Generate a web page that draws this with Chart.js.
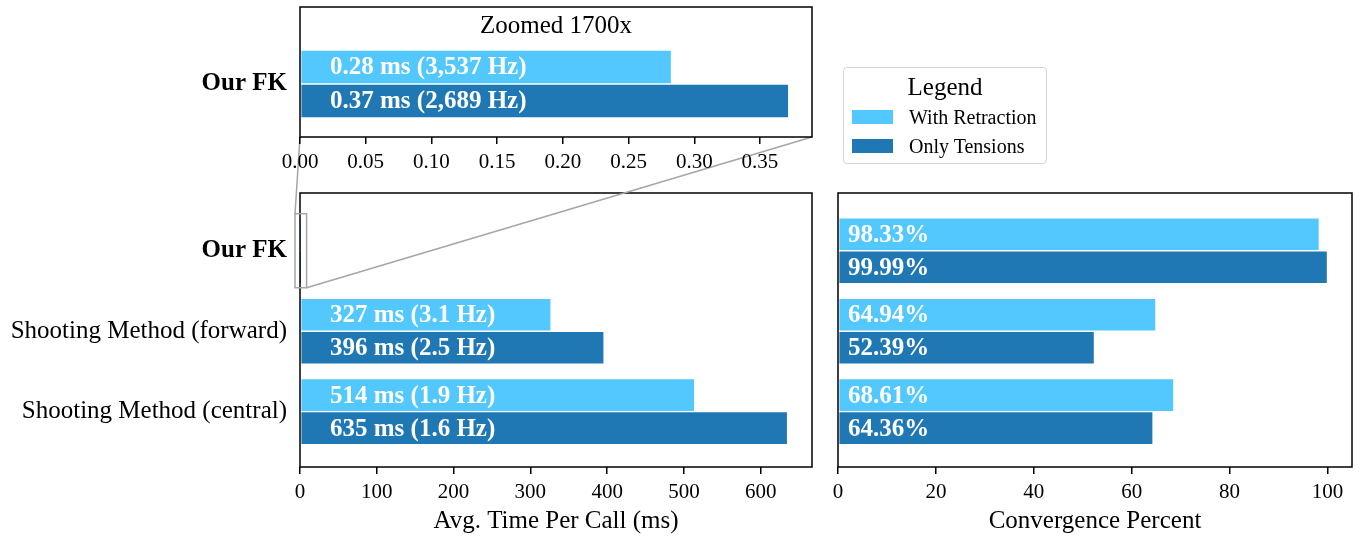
<!DOCTYPE html>
<html>
<head>
<meta charset="utf-8">
<script src="https://cdn.jsdelivr.net/npm/chart.js@4.4.0/dist/chart.umd.min.js"></script>
<style>
  html, body { margin: 0; padding: 0; background: #fff; }
  #wrap { position: relative; width: 1360px; height: 538px; overflow: hidden; }
  #wrap canvas { position: absolute; left: 0; top: 0; }
  #legend {
    position: absolute; left: 843px; top: 67px; width: 204px; height: 97px;
    box-sizing: border-box; border: 1.5px solid #d4d4d4; border-radius: 4px;
    background: #fff; font-family: 'Liberation Serif', 'DejaVu Serif', serif; color: #000;
  }
  #legend .title { position: absolute; left: 0; top: 4px; width: 100%; text-align: center; font-size: 25px; line-height: 30px; }
  #legend .patch { position: absolute; left: 8px; width: 41px; height: 14px; }
  #legend .name { position: absolute; left: 65px; font-size: 20px; line-height: 24px; white-space: nowrap; }
</style>
</head>
<body>
<div id="wrap">
  <canvas id="main" width="1360" height="538"></canvas>
  <canvas id="inset" width="1360" height="538"></canvas>
  <canvas id="conv" width="1360" height="538"></canvas>
  <div id="legend"></div>
</div>
<script>
// data
var categories = ['Our FK', 'Shooting Method (forward)', 'Shooting Method (central)'];
var seriesNames = ['With Retraction', 'Only Tensions'];
var colors = ['#52c8ff', '#1f77b4'];

// avg. time per call, ms
var timeRetraction = [0.2827, 327, 514];
var timeTensions = [0.3719, 396, 635];
var timeTextRetraction = ['0.28 ms (3,537 Hz)', '327 ms (3.1 Hz)', '514 ms (1.9 Hz)'];
var timeTextTensions = ['0.37 ms (2,689 Hz)', '396 ms (2.5 Hz)', '635 ms (1.6 Hz)'];

// convergence percent
var convRetraction = [98.33, 64.94, 68.61];
var convTensions = [99.99, 52.39, 64.36];
var convTextRetraction = ['98.33%', '64.94%', '68.61%'];
var convTextTensions = ['99.99%', '52.39%', '64.36%'];

var insetTicks = [0, 0.05, 0.10, 0.15, 0.20, 0.25, 0.30, 0.35];
var timeTicks = [0, 100, 200, 300, 400, 500, 600];
var convTicks = [0, 20, 40, 60, 80, 100];

// region of the main axes shown in the inset (ms, category units)
var zoomBoxX = [-6.5, 8.6];
var zoomBoxY = [-0.46, 0.46];

Chart.defaults.font.family = "'Liberation Serif', 'DejaVu Serif', serif";
Chart.defaults.color = '#000';

function points(vals) {
  return vals.map(function (v, i) { return { x: v, y: i }; });
}

function bars(name, vals, color, thickness) {
  return {
    label: name,
    data: points(vals),
    backgroundColor: color,
    borderColor: '#fff',
    borderWidth: 1,
    borderSkipped: false,
    barThickness: thickness
  };
}

function xAxis(min, max, ticks, fmt, title, height) {
  return {
    type: 'linear', position: 'bottom', min: min, max: max, offset: false,
    afterBuildTicks: function (ax) { ax.ticks = ticks.map(function (v) { return { value: v }; }); },
    afterFit: function (ax) {
      ax.height = height;
      ax.paddingLeft = 0; ax.paddingRight = 0; ax.paddingTop = 0; ax.paddingBottom = 0;
    },
    ticks: { callback: fmt, font: { size: 21 }, padding: 6, autoSkip: false, maxRotation: 0, color: '#000' },
    grid: { drawOnChartArea: false, drawTicks: true, tickLength: 7, color: '#000', lineWidth: 1.5 },
    border: { display: false },
    title: title
      ? { display: true, text: title, font: { size: 25 }, padding: { top: 0, bottom: 2 }, color: '#000' }
      : { display: false }
  };
}

function yAxis(min, max, ticks, show) {
  return {
    type: 'linear', reverse: true, min: min, max: max, offset: false, display: show,
    afterBuildTicks: function (ax) { ax.ticks = ticks.map(function (v) { return { value: v }; }); },
    afterFit: function (ax) {
      ax.width = show ? 300 : 0;
      ax.paddingLeft = 0; ax.paddingRight = 0; ax.paddingTop = 0; ax.paddingBottom = 0;
    },
    ticks: {
      callback: function (v) { return categories[v]; },
      font: function (ctx) {
        return { size: 25, weight: ctx.tick && ctx.tick.value === 0 ? 'bold' : 'normal' };
      },
      padding: 13, color: '#000'
    },
    grid: { display: false, drawTicks: false },
    border: { display: false }
  };
}

var boxPlugin = {
  id: 'box',
  afterDatasetsDraw: function (chart) {
    var a = chart.chartArea, c = chart.ctx;
    c.save();
    c.strokeStyle = '#000';
    c.lineWidth = 1.5;
    c.strokeRect(a.left, a.top, a.right - a.left, a.bottom - a.top);
    c.restore();
  }
};

function barText(texts, offset) {
  return {
    id: 'barText',
    afterDatasetsDraw: function (chart) {
      var c = chart.ctx;
      c.save();
      c.fillStyle = '#fff';
      c.font = "bold 25px 'Liberation Serif', 'DejaVu Serif', serif";
      c.textBaseline = 'middle';
      c.textAlign = 'left';
      chart.data.datasets.forEach(function (ds, di) {
        chart.getDatasetMeta(di).data.forEach(function (bar, i) {
          var t = texts[di][i];
          if (t) c.fillText(t, chart.chartArea.left + offset, bar.y + 1);
        });
      });
      c.restore();
    }
  };
}

function baseOptions(padding, scales) {
  return {
    responsive: false,
    animation: false,
    devicePixelRatio: 1,
    indexAxis: 'y',
    layout: { padding: padding },
    plugins: { legend: { display: false }, tooltip: { enabled: false } },
    events: [],
    scales: scales
  };
}

// inset: zoom on "Our FK"
var insetChart = new Chart(document.getElementById('inset'), {
  type: 'bar',
  data: {
    datasets: [
      bars(seriesNames[0], timeRetraction.slice(0, 1), colors[0], 34),
      bars(seriesNames[1], timeTensions.slice(0, 1), colors[1], 34)
    ]
  },
  options: baseOptions({ left: 0, right: 548, top: 7, bottom: 0 }, {
    x: xAxis(0, 0.3896, insetTicks, function (v) { return v.toFixed(2); }, null, 401),
    y: yAxis(-0.957, 0.658, [0], true)
  }),
  plugins: [
    boxPlugin,
    barText([timeTextRetraction.slice(0, 1), timeTextTensions.slice(0, 1)], 30),
    {
      id: 'insetTitle',
      afterDraw: function (chart) {
        var a = chart.chartArea, c = chart.ctx;
        c.save();
        c.fillStyle = '#000';
        c.font = "25px 'Liberation Serif', 'DejaVu Serif', serif";
        c.textAlign = 'center';
        c.textBaseline = 'middle';
        c.fillText('Zoomed 1700x', (a.left + a.right) / 2, a.top + 19);
        c.restore();
      }
    }
  ]
});

// main time chart
var zoomPlugin = {
  id: 'zoomMark',
  afterDraw: function (chart) {
    var xs = chart.scales.x, ys = chart.scales.y, c = chart.ctx;
    var x0 = xs.getPixelForValue(zoomBoxX[0]), x1 = xs.getPixelForValue(zoomBoxX[1]);
    var y0 = ys.getPixelForValue(zoomBoxY[0]), y1 = ys.getPixelForValue(zoomBoxY[1]);
    var ia = insetChart.chartArea;
    c.save();
    c.strokeStyle = '#a6a6a6';
    c.lineWidth = 1.5;
    c.strokeRect(x0, y0, x1 - x0, y1 - y0);
    c.beginPath();
    c.moveTo(ia.left, ia.bottom);
    c.lineTo(x0, y0);
    c.moveTo(ia.right, ia.bottom);
    c.lineTo(x1, y1);
    c.stroke();
    c.restore();
  }
};

new Chart(document.getElementById('main'), {
  type: 'bar',
  data: {
    datasets: [
      bars(seriesNames[0], timeRetraction, colors[0], 33),
      bars(seriesNames[1], timeTensions, colors[1], 33)
    ]
  },
  options: baseOptions({ left: 0, right: 548, top: 193, bottom: 0 }, {
    x: xAxis(0, 666.75, timeTicks, function (v) { return String(v); }, 'Avg. Time Per Call (ms)', 71),
    y: yAxis(-0.717, 2.687, [0, 1, 2], true)
  }),
  plugins: [
    boxPlugin,
    barText([
      timeTextRetraction.map(function (t, i) { return i === 0 ? '' : t; }),
      timeTextTensions.map(function (t, i) { return i === 0 ? '' : t; })
    ], 30),
    zoomPlugin
  ]
});

// convergence chart
new Chart(document.getElementById('conv'), {
  type: 'bar',
  data: {
    datasets: [
      bars(seriesNames[0], convRetraction, colors[0], 33),
      bars(seriesNames[1], convTensions, colors[1], 33)
    ]
  },
  options: baseOptions({ left: 838, right: 8, top: 193, bottom: 0 }, {
    x: xAxis(0, 105, convTicks, function (v) { return String(v); }, 'Convergence Percent', 71),
    y: yAxis(-0.717, 2.687, [0, 1, 2], false)
  }),
  plugins: [boxPlugin, barText([convTextRetraction, convTextTensions], 10)]
});

// legend
var lg = document.getElementById('legend');
var html = '<div class="title">Legend</div>';
seriesNames.forEach(function (name, i) {
  html += '<div class="patch" style="top:' + (42 + i * 29) + 'px;background:' + colors[i] + '"></div>';
  html += '<div class="name" style="top:' + (37 + i * 29) + 'px">' + name + '</div>';
});
lg.innerHTML = html;
</script>
</body>
</html>
